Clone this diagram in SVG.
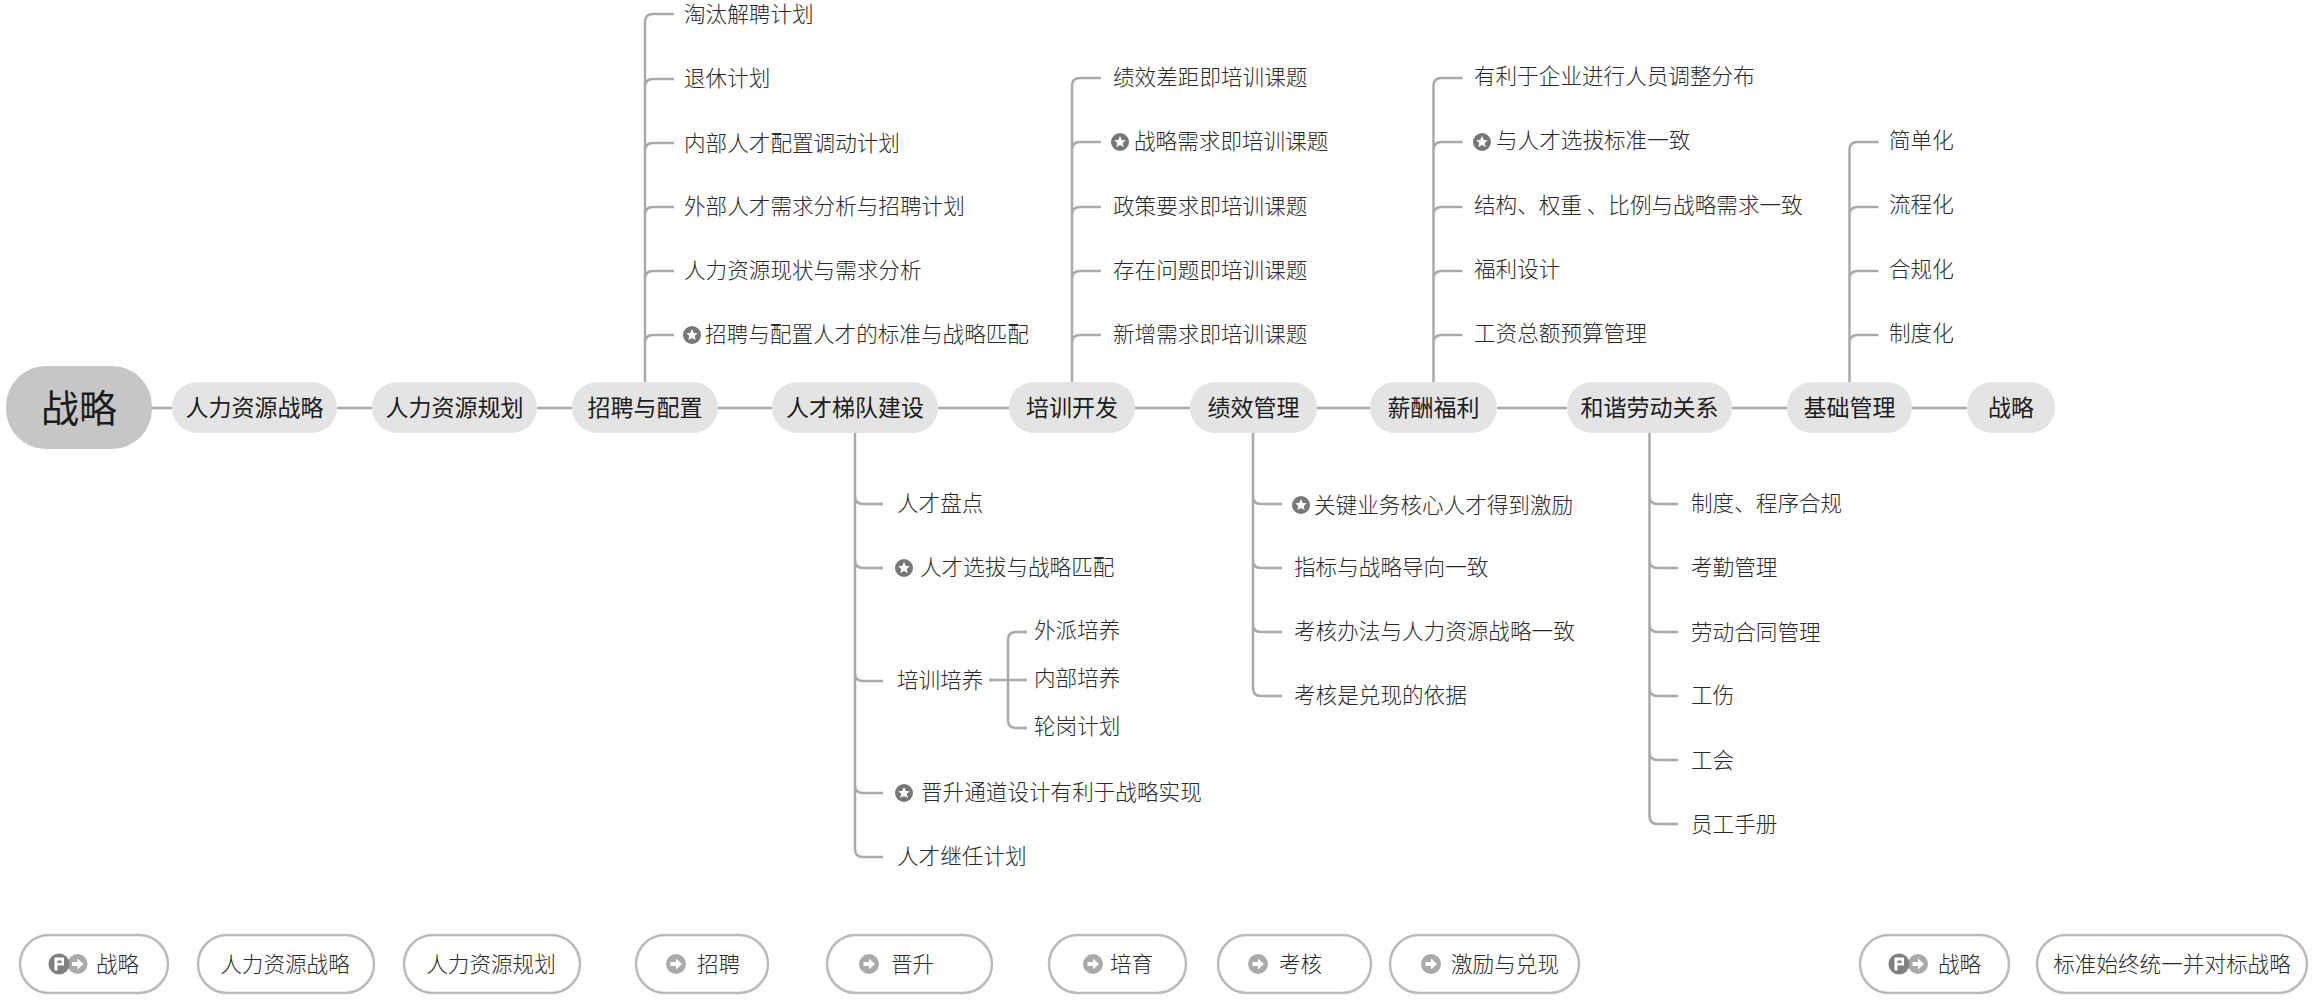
<svg xmlns="http://www.w3.org/2000/svg" width="2312" height="1000" viewBox="0 0 2312 1000">
<style>
text{font-family:"Noto Sans CJK SC","Noto Sans",sans-serif;fill:#2a2a2a;font-size:21.6px;font-weight:300}
.m{font-size:23px;font-weight:400;fill:#1c1c1c;text-anchor:middle}
.r{font-size:38px;font-weight:400;fill:#1c1c1c;text-anchor:middle}
.n{fill:#e4e4e4}
.root{fill:#c6c6c6}
.p{fill:#fff;stroke:#bbb;stroke-width:2.5}
.c{text-anchor:middle}
#connectors path{fill:none;stroke:#aaa;stroke-width:2.5}
</style>
<defs>
<g id="star"><circle r="9" fill="#777"/><path d="M0-6 1.800-2 5.800-1.700 2.700 1 3.700 5.100 0 3-3.700 5.100-2.700 1-5.800-1.700-1.800-2Z" fill="#fff"/></g>
<g id="arrow"><circle r="10" fill="#aaa"/><path d="M-5.500-2H0V-5.500L6 0 0 5.500V2H-5.500Z" fill="#fff"/></g>
<g id="flag"><circle r="10.500" fill="#808080"/><path d="M-4.500-6.500V6.500H-1.500V1.500H5V-6.500Z" fill="#fff"/><path d="M-1.500-3.500V-1H2.500V-3.500Z" fill="#808080"/></g>
</defs>
<g id="connectors">
<path d="M152 408H172M337 408H372M537 408H572M718 408H772M938 408H1009M1135 408H1190M1317 408H1370M1497 408H1567M1732 408H1787M1912 408H1967"/>
<path d="M645 382V22Q645 14 653 14H674M645 87Q645 79 653 79H674M645 151Q645 143 653 143H674M645 215Q645 207 653 207H674M645 279Q645 271 653 271H674M645 343Q645 335 653 335H674"/>
<path d="M1072 382V86Q1072 78 1080 78H1101M1072 150Q1072 142 1080 142H1101M1072 215Q1072 207 1080 207H1101M1072 279Q1072 271 1080 271H1101M1072 343Q1072 335 1080 335H1101"/>
<path d="M1433.500 382V86Q1433.500 78 1441.500 78H1462.500M1433.500 150Q1433.500 142 1441.500 142H1462.500M1433.500 215Q1433.500 207 1441.500 207H1462.500M1433.500 279Q1433.500 271 1441.500 271H1462.500M1433.500 343Q1433.500 335 1441.500 335H1462.500"/>
<path d="M1849.500 382V150Q1849.500 142 1857.500 142H1878.500M1849.500 215Q1849.500 207 1857.500 207H1878.500M1849.500 279Q1849.500 271 1857.500 271H1878.500M1849.500 343Q1849.500 335 1857.500 335H1878.500"/>
<path d="M855 433V849Q855 857 863 857H883M855 496Q855 504 863 504H883M855 560Q855 568 863 568H883M855 673Q855 681 863 681H883M855 785Q855 793 863 793H883"/>
<path d="M989 680H1027M1008 672V640Q1008 632 1016 632H1027M1008 688V720Q1008 728 1016 728H1027M1008 672V688"/>
<path d="M1253 433V688Q1253 696 1261 696H1282M1253 496Q1253 504 1261 504H1282M1253 560Q1253 568 1261 568H1282M1253 624Q1253 632 1261 632H1282"/>
<path d="M1649.500 433V816Q1649.500 824 1657.500 824H1678M1649.500 496Q1649.500 504 1657.500 504H1678M1649.500 560Q1649.500 568 1657.500 568H1678M1649.500 624Q1649.500 632 1657.500 632H1678M1649.500 688Q1649.500 696 1657.500 696H1678M1649.500 752Q1649.500 760 1657.500 760H1678"/>
</g>
<g id="root"><rect class="root" x="6" y="366" width="146" height="83" rx="40"/><text class="r" x="79" y="422">战略</text></g>
<g id="n1"><rect class="n" x="172" y="382" width="165" height="51" rx="25"/><text class="m" x="254.500" y="416">人力资源战略</text></g>
<g id="n2"><rect class="n" x="372" y="382" width="165" height="51" rx="25"/><text class="m" x="454.500" y="416">人力资源规划</text></g>
<g id="n3"><rect class="n" x="572" y="382" width="146" height="51" rx="25"/><text class="m" x="645" y="416">招聘与配置</text></g>
<g id="n4"><rect class="n" x="772" y="382" width="166" height="51" rx="25"/><text class="m" x="855" y="416">人才梯队建设</text></g>
<g id="n5"><rect class="n" x="1009" y="382" width="126" height="51" rx="25"/><text class="m" x="1072" y="416">培训开发</text></g>
<g id="n6"><rect class="n" x="1190" y="382" width="127" height="51" rx="25"/><text class="m" x="1253.500" y="416">绩效管理</text></g>
<g id="n7"><rect class="n" x="1370" y="382" width="127" height="51" rx="25"/><text class="m" x="1433.500" y="416">薪酬福利</text></g>
<g id="n8"><rect class="n" x="1567" y="382" width="165" height="51" rx="25"/><text class="m" x="1649.500" y="416">和谐劳动关系</text></g>
<g id="n9"><rect class="n" x="1787" y="382" width="125" height="51" rx="25"/><text class="m" x="1849.500" y="416">基础管理</text></g>
<g id="n10"><rect class="n" x="1967" y="382" width="88" height="51" rx="25"/><text class="m" x="2011" y="416">战略</text></g>
<g id="recruit-items">
<text x="684" y="22">淘汰解聘计划</text>
<text x="684" y="86">退休计划</text>
<text x="684" y="151">内部人才配置调动计划</text>
<text x="684" y="214">外部人才需求分析与招聘计划</text>
<text x="684" y="278">人力资源现状与需求分析</text>
<use href="#star" x="692" y="335"/><text x="705" y="342">招聘与配置人才的标准与战略匹配</text>
</g>
<g id="training-items">
<text x="1113" y="85">绩效差距即培训课题</text>
<use href="#star" x="1120" y="142"/><text x="1134" y="149">战略需求即培训课题</text>
<text x="1113" y="214">政策要求即培训课题</text>
<text x="1113" y="278">存在问题即培训课题</text>
<text x="1113" y="342">新增需求即培训课题</text>
</g>
<g id="pay-items">
<text x="1474" y="84">有利于企业进行人员调整分布</text>
<use href="#star" x="1482" y="142"/><text x="1496" y="148">与人才选拔标准一致</text>
<text x="1474" y="213">结构、权重 、比例与战略需求一致</text>
<text x="1474" y="277">福利设计</text>
<text x="1474" y="341">工资总额预算管理</text>
</g>
<g id="base-items">
<text x="1889" y="148">简单化</text>
<text x="1889" y="212">流程化</text>
<text x="1889" y="277">合规化</text>
<text x="1889" y="341">制度化</text>
</g>
<g id="talent-items">
<text x="897" y="511">人才盘点</text>
<use href="#star" x="904" y="568"/><text x="920" y="575">人才选拔与战略匹配</text>
<text x="897" y="688">培训培养</text>
<text x="1034" y="638">外派培养</text>
<text x="1034" y="686">内部培养</text>
<text x="1034" y="734">轮岗计划</text>
<use href="#star" x="904" y="793"/><text x="921" y="800">晋升通道设计有利于战略实现</text>
<text x="897" y="864">人才继任计划</text>
</g>
<g id="perf-items">
<use href="#star" x="1301" y="505"/><text x="1314" y="513">关键业务核心人才得到激励</text>
<text x="1294" y="575">指标与战略导向一致</text>
<text x="1294" y="639">考核办法与人力资源战略一致</text>
<text x="1294" y="703">考核是兑现的依据</text>
</g>
<g id="labor-items">
<text x="1691" y="511">制度、程序合规</text>
<text x="1691" y="575">考勤管理</text>
<text x="1691" y="640">劳动合同管理</text>
<text x="1691" y="703">工伤</text>
<text x="1691" y="768">工会</text>
<text x="1691" y="832">员工手册</text>
</g>
<g id="b1"><rect class="p" x="20" y="935" width="148" height="58" rx="29"/><use href="#arrow" x="77.500" y="964"/><use href="#flag" x="59" y="964"/><text x="96" y="972">战略</text></g>
<g id="b2"><rect class="p" x="198" y="935" width="176" height="58" rx="29"/><text class="c" x="285" y="972">人力资源战略</text></g>
<g id="b3"><rect class="p" x="404" y="935" width="176" height="58" rx="29"/><text class="c" x="491" y="972">人力资源规划</text></g>
<g id="b4"><rect class="p" x="636" y="935" width="132" height="58" rx="29"/><use href="#arrow" x="676" y="964"/><text x="697" y="972">招聘</text></g>
<g id="b5"><rect class="p" x="827" y="935" width="165" height="58" rx="29"/><use href="#arrow" x="869" y="964"/><text x="891" y="972">晋升</text></g>
<g id="b6"><rect class="p" x="1049" y="935" width="137" height="58" rx="29"/><use href="#arrow" x="1093" y="964"/><text x="1110" y="972">培育</text></g>
<g id="b7"><rect class="p" x="1218" y="935" width="153" height="58" rx="29"/><use href="#arrow" x="1258" y="964"/><text x="1279" y="972">考核</text></g>
<g id="b8"><rect class="p" x="1390" y="935" width="189" height="58" rx="29"/><use href="#arrow" x="1431" y="964"/><text x="1451" y="972">激励与兑现</text></g>
<g id="b9"><rect class="p" x="1860" y="935" width="149" height="58" rx="29"/><use href="#arrow" x="1918" y="964"/><use href="#flag" x="1899" y="964"/><text x="1938" y="972">战略</text></g>
<g id="b10"><rect class="p" x="2037" y="935" width="270" height="58" rx="29"/><text class="c" x="2172" y="972">标准始终统一并对标战略</text></g>
</svg>
